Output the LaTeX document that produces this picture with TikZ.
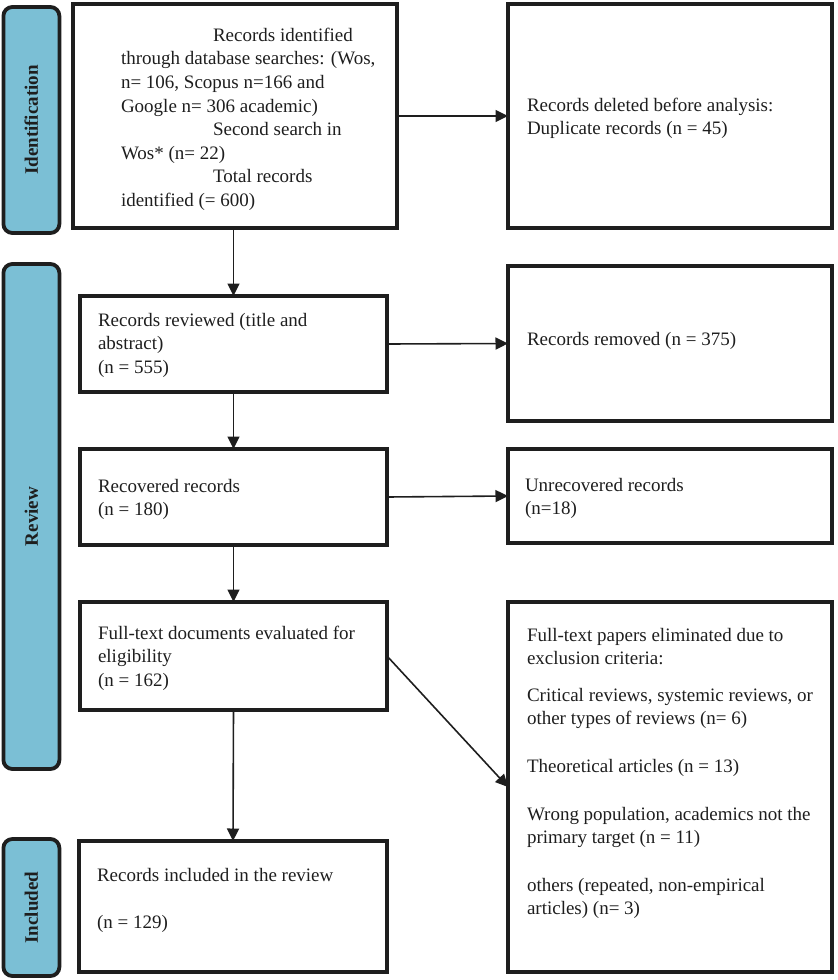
\documentclass[tikz,border=0pt]{standalone}
\usepackage{fontspec}
\setmainfont{Liberation Serif}
\usetikzlibrary{arrows.meta}
\definecolor{barfill}{HTML}{7BBFD5}
\definecolor{ink}{HTML}{1E1E1E}
\begin{document}
\begin{tikzpicture}[x=1pt,y=-1pt,
  pbox/.style={draw=ink, line width=4.2pt, rectangle, inner sep=0pt, outer sep=0pt},
  ptext/.style={anchor=north west, inner sep=0pt, outer sep=0pt, align=left,
    font=\fontsize{19}{23.6}\selectfont, text=ink},
  bar/.style={draw=ink, fill=barfill, line width=3.8pt, rounded corners=9pt,
    inner sep=0pt, outer sep=0pt},
  barlabel/.style={rotate=90, font=\bfseries\fontsize{19}{23}\selectfont, text=ink},
  arr/.style={draw=ink, line width=1.6pt, -{Triangle[length=12.5pt,width=12pt]}}]
\useasboundingbox (0,0) rectangle (838,980);

% side bars
\node[bar, minimum width=56pt, minimum height=226pt] (idbar) at (31.4,120) {};
\node[barlabel] (idlab) at (idbar) {Identification};
\node[bar, minimum width=56pt, minimum height=505pt] (revbar) at (31.4,516.5) {};
\node[barlabel] (revlab) at (revbar) {Review};
\node[bar, minimum width=56pt, minimum height=137pt] (incbar) at (31.4,907.5) {};
\node[barlabel] (inclab) at (incbar) {Included};

% boxes
\node[pbox, minimum width=324pt, minimum height=224pt] (b1) at (235,116) {};
\node[pbox, minimum width=324pt, minimum height=224pt] (del) at (670,116) {};
\node[pbox, minimum width=307pt, minimum height=96pt] (b2) at (233.5,344) {};
\node[pbox, minimum width=324pt, minimum height=155pt] (rem) at (670,343.5) {};
\node[pbox, minimum width=307pt, minimum height=96pt] (b3) at (233.5,497) {};
\node[pbox, minimum width=324pt, minimum height=94pt] (unrec) at (670,496) {};
\node[pbox, minimum width=307pt, minimum height=108pt] (b4) at (233.5,656) {};
\node[pbox, minimum width=324pt, minimum height=370pt] (elim) at (670,787) {};
\node[pbox, minimum width=308pt, minimum height=131pt] (b5) at (233,906.5) {};

% texts
\node[ptext] (t1) at (121,28) {\hspace*{92pt}Records identified\\
through database searches: (Wos,\\
n= 106, Scopus n=166 and\\
Google n= 306 academic)\\
\hspace*{92pt}Second search in\\
Wos* (n= 22)\\
\hspace*{92pt}Total records\\
identified (= 600)};
\node[ptext] (tdel) at (527,98) {Records deleted before analysis:\\ Duplicate records (n = 45)};
\node[ptext] (t2) at (98,313) {Records reviewed (title and\\ abstract)\\ (n = 555)};
\node[ptext] (trem) at (527,332) {Records removed (n = 375)};
\node[ptext] (t3) at (98,479) {Recovered records\\ (n = 180)};
\node[ptext] (tunrec) at (525,478) {Unrecovered records\\ (n=18)};
\node[ptext] (t4) at (98,626) {Full-text documents evaluated for\\ eligibility\\ (n = 162)};
\node[ptext] (telim) at (527,628) {Full-text papers eliminated due to\\
exclusion criteria:\\[13pt]
Critical reviews, systemic reviews, or\\
other types of reviews (n= 6)\\[24pt]
Theoretical articles (n = 13)\\[24pt]
Wrong population, academics not the\\
primary target (n = 11)\\[24pt]
others (repeated, non-empirical\\
articles) (n= 3)};
\node[ptext] (t5) at (97,868) {Records included in the review\\[24pt] (n = 129)};

% connectors
\draw[arr] (b1.east) -- (del.west);
\draw[arr] (b2.north |- b1.south) -- (b2.north);
\draw[arr] (b2.east) -- (rem.west);
\draw[arr] (b2.south) -- (b3.north);
\draw[arr] (b3.east) -- (unrec.west);
\draw[arr] (b3.south) -- (b4.north);
\draw[arr] (b4.east) -- (elim.west);
\draw[arr] (b4.south) -- (b5.north);
\end{tikzpicture}
\end{document}
